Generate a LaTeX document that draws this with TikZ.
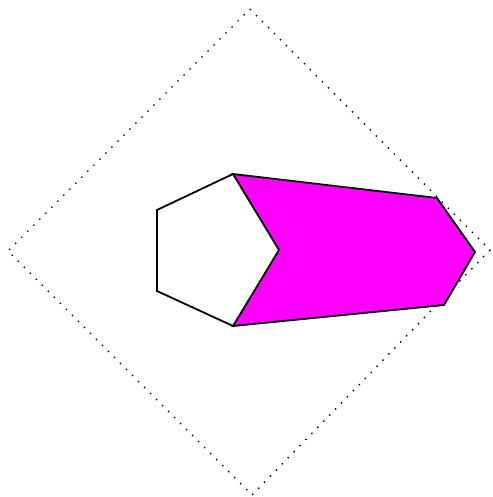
\documentclass[tikz,border=0pt]{standalone}
\definecolor{mag}{RGB}{255,0,255}
\begin{document}
\begin{tikzpicture}[x=1pt,y=-1pt,
  dotline/.style={line width=1.4pt, dash pattern=on 1.4pt off 7.1pt},
  shapeline/.style={line width=1.8pt, line join=miter}]
\useasboundingbox (0,0) rectangle (492,497);
\fill[white] (0,0) rectangle (492,497);
\coordinate (dt) at (250,9);
\coordinate (dl) at (8,251);
\coordinate (db) at (252,495);
\coordinate (dr) at (490,250);
\draw[dotline] (dt) -- (dr) -- (db) -- (dl) -- cycle;
\coordinate (pt) at (233,174);
\coordinate (plt) at (157,210);
\coordinate (plb) at (157,291);
\coordinate (pb) at (233,326);
\coordinate (pr) at (279,250);
\coordinate (mtr) at (437,198);
\coordinate (mr) at (475,252);
\coordinate (mbr) at (444,305);
\draw[shapeline, fill=mag] (pt) -- (mtr) -- (mr) -- (mbr) -- (pb) -- (pr) -- cycle;
\draw[shapeline, fill=white] (pt) -- (plt) -- (plb) -- (pb) -- (pr) -- cycle;
\end{tikzpicture}
\end{document}
